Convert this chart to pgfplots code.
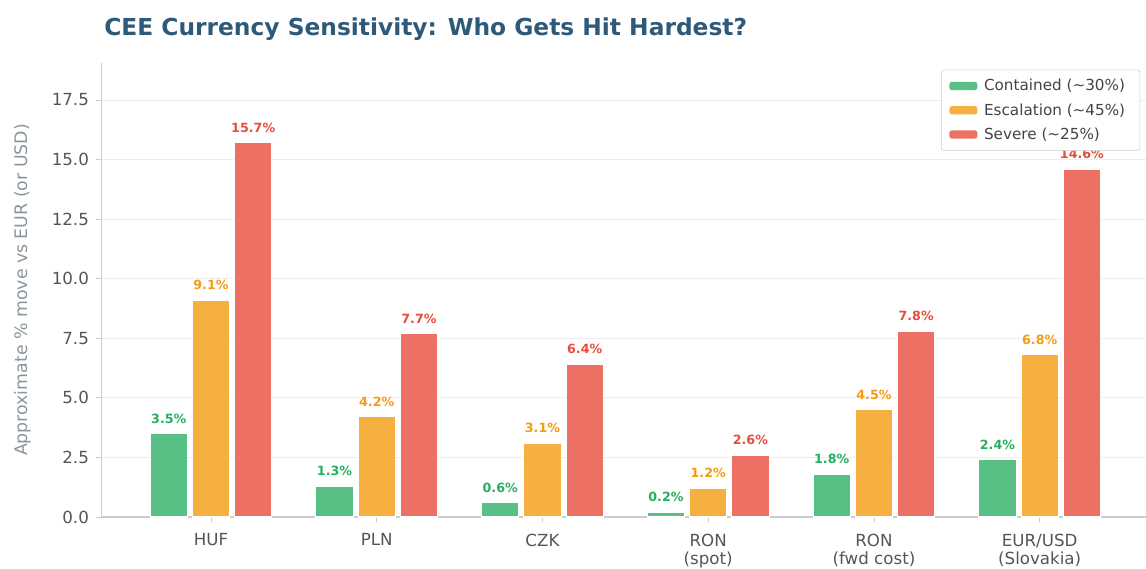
\documentclass[border=0pt]{standalone}
\usepackage{pgfplots}
\pgfplotsset{compat=1.18}
\usepackage{fontspec}
\setmainfont{DejaVu Sans}
\definecolor{cgreen}{HTML}{58BF85}
\definecolor{corange}{HTML}{F5B041}
\definecolor{cred}{HTML}{EC7063}
\definecolor{tgreen}{HTML}{27AE60}
\definecolor{torange}{HTML}{F39C12}
\definecolor{tred}{HTML}{E74C3C}
\definecolor{ctitle}{HTML}{2E5A7A}
\definecolor{ctick}{HTML}{555555}
\definecolor{clabel}{HTML}{8A969C}
\definecolor{cspine}{HTML}{CCCCCC}
\definecolor{cgrid}{HTML}{EDEDED}
\begin{document}
\begin{tikzpicture}
\begin{axis}[
  at={(0,0)}, anchor=south west,
  scale only axis,
  width=785.6pt, height=340.5pt,
  xmin=-0.66, xmax=5.66,
  ymin=0, ymax=19.05,
  ybar=3.7pt, bar width=0.225,
  xtick={0,1,2,3,4,5},
  xticklabels={HUF,PLN,CZK,{RON\\(spot)},{RON\\(fwd cost)},{EUR/USD\\(Slovakia)}},
  xticklabel style={align=center, font=\fontsize{12.5}{13.5}\selectfont, text=ctick, yshift=-5pt},
  ytick={0,2.5,5,7.5,10,12.5,15,17.5},
  yticklabel style={font=\fontsize{12.5}{13.5}\selectfont, text=ctick, /pgf/number format/fixed, /pgf/number format/fixed zerofill, /pgf/number format/precision=1, xshift=-2pt},
  /pgf/number format/assume math mode=true,
  ylabel={Approximate \% move vs EUR (or USD)},
  ylabel style={font=\fontsize{13}{14}\selectfont, text=clabel, yshift=9pt},
  ymajorgrids, grid style={cgrid, line width=0.6pt},
  axis x line*=bottom, axis y line*=left,
  axis line style={cspine, line width=0.8pt},
  tick style={cspine, line width=0.6pt},
  tick align=outside, major tick length=4pt,
  legend cell align=left,
  legend style={at={(1,1)}, anchor=north east, xshift=-6.75pt, yshift=-5pt,
    draw=cspine, rounded corners=2pt, font=\fontsize{11.4}{13}\selectfont, text=ctick!80!black,
    row sep=4pt, inner xsep=6pt, inner ysep=5pt,
    nodes={inner xsep=5pt}},
  legend image code/.code={\fill[#1, draw=none] (0cm,-0.11cm) rectangle (0.74cm,0.11cm);},
  every node near coord/.append style={font=\bfseries\fontsize{9.5}{10}\selectfont, yshift=4pt},
  nodes near coords={\pgfmathprintnumber[fixed,fixed zerofill,precision=1]{\pgfplotspointmeta}\%},
]
\addplot[fill=cgreen, draw=white, line width=0.8pt,
  nodes near coords style={text=tgreen}] coordinates {(0,3.5) (1,1.3) (2,0.6) (3,0.2) (4,1.8) (5,2.4)};
\addlegendentry{Contained (\textasciitilde 30\%)}
\addplot[fill=corange, draw=white, line width=0.8pt,
  nodes near coords style={text=torange}] coordinates {(0,9.1) (1,4.2) (2,3.1) (3,1.2) (4,4.5) (5,6.8)};
\addlegendentry{Escalation (\textasciitilde 45\%)}
\addplot[fill=cred, draw=white, line width=0.8pt,
  nodes near coords style={text=tred}] coordinates {(0,15.7) (1,7.7) (2,6.4) (3,2.6) (4,7.8) (5,14.6)};
\addlegendentry{Severe (\textasciitilde 25\%)}
\end{axis}
\node[anchor=west, font=\bfseries\fontsize{17.5}{19}\selectfont, text=ctitle] at (-1.5pt, 366pt) {CEE Currency Sensitivity: Who Gets Hit Hardest?};
\pgfresetboundingbox
\path (-76.2pt,-38.25pt) rectangle (783.3pt,387.75pt);
\end{tikzpicture}
\end{document}
